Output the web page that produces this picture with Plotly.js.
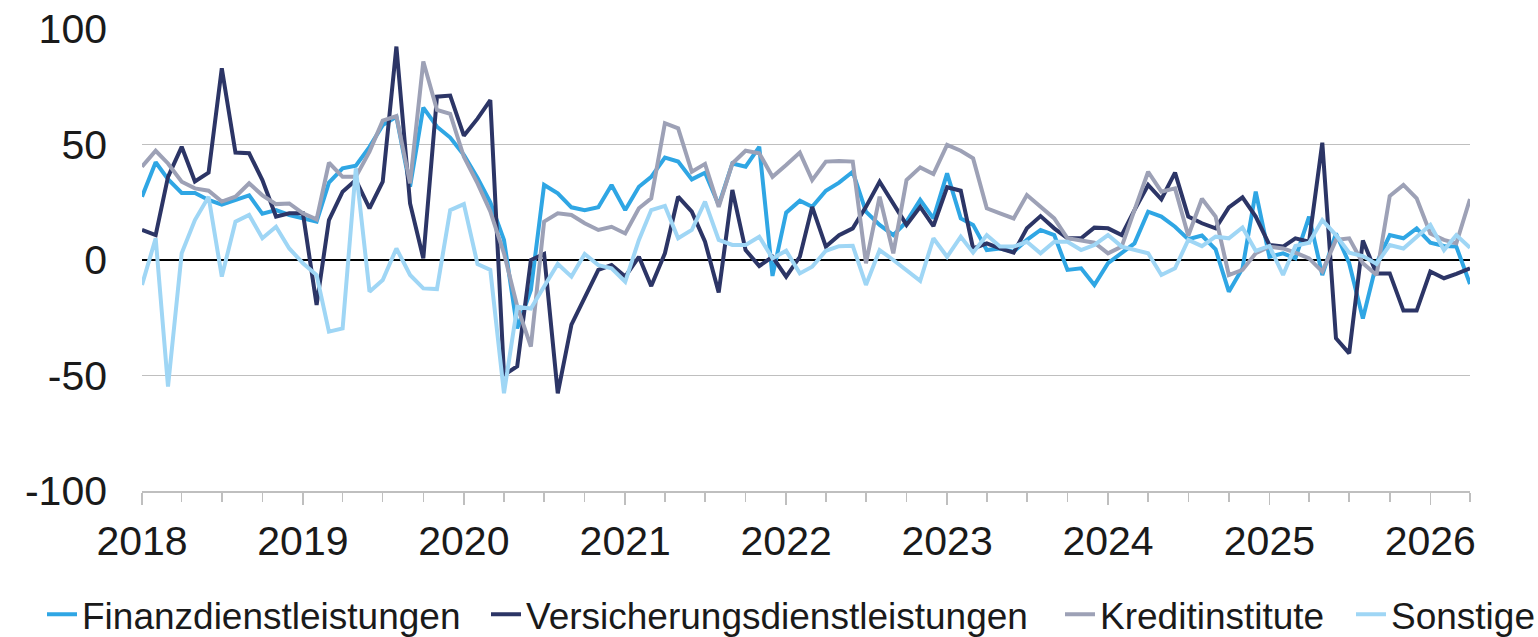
<!DOCTYPE html>
<html>
<head>
<meta charset="utf-8">
<script src="https://cdn.plot.ly/plotly-3.0.1.min.js"></script>
<style>html,body{margin:0;padding:0;background:#fff;}#chart{width:1538px;height:637px;}</style>
</head>
<body>
<div id="chart"></div>
<script>
var seriesNames = ["Finanzdienstleistungen", "Versicherungsdienstleistungen", "Kreditinstitute", "Sonstige"];
var seriesColors = ["#2FA6E4", "#2C3566", "#9DA1B6", "#9FD6F5"];

var finanz = [27.4,42.3,35,29,29,26,24,26,28,20,21.6,19.5,18,16.6,33.5,39.7,40.8,49,58.4,62,
  31.7,66,57.7,53,45.5,35.5,25,8.7,-29.6,-13,32.5,28.9,22.8,21.6,22.8,32.5,21.6,31.7,36,44.3,
  42.6,34.9,37.8,23.8,41.8,40.4,49,-6.9,20.5,25.7,23,30,33.5,38.2,20.9,15.2,10.8,16.6,26,18,
  37.5,18,15.2,4.3,5,3.6,8.7,13,10.8,-4.3,-3.6,-10.8,-1.4,2.9,7.2,20.9,18.8,14.4,9,10.6,
  4.6,-13.7,-3.6,29.6,1.4,2.9,0.7,18.8,-6.5,11.5,-1.4,-25.3,-1.4,10.8,9.4,13.7,7.5,6.1,5.8,-10.4];

var versicherung = [13,10.8,36,49,34,37.8,83,46.5,46.2,34.6,18.8,20.2,20.2,-19.5,17.3,29.6,34.6,22.4,33.9,92.4,
  24.5,0.7,70.7,71.2,53.8,61.2,69.2,-49.8,-46,0,2.6,-57.7,-28,-16,-4.3,-2.2,-7.2,1.4,-11.3,2.9,
  27.4,20.9,7.9,-14.1,30.3,4.3,-2.6,1.4,-7.2,1.4,23,5.8,10.7,13.7,23,33.9,24.5,15.2,23,14.7,
  31.5,30,5,7.2,5,3.2,13.7,19,13.7,9.4,9.4,14,13.7,10.8,21.6,32.5,26.3,37.8,18.8,15.9,
  13.7,22.8,27.1,18.8,6.5,5.8,9.4,7.9,50.8,-33.9,-40.4,8.4,-5.8,-5.8,-21.9,-21.9,-5,-7.9,-6,-3.6];

var kredit = [40.4,47.3,41.8,33.9,31,30,25.3,27.4,33.2,28,24.2,24.5,20.2,17.6,42.1,36,36,46.9,60.3,62.3,
  33.2,85.9,65,63.3,44.7,33.2,21,2.9,-20,-37.5,16.6,20.2,19.5,15.9,13,14.4,11.5,22.4,26.7,59.2,
  57,38.2,41.6,23,41.8,47.3,46.2,36,41.1,46.5,34.6,42.6,42.9,42.6,-1.4,27.4,2.9,34.6,40.1,37.2,
  49.8,47.3,44,22.4,20.2,18,28.1,23,18,9.4,8.4,7.5,2.9,5.8,21.6,38.2,29.6,31,10.5,26.5,
  18.8,-6.5,-4.3,2.9,5.8,5,3.2,0.7,-5,8.7,9.4,-1.4,-6.5,27.7,32.5,26.7,11.5,8.7,7.2,26.4];

var sonstige = [-10.8,9.4,-54.8,2.9,17.3,27.4,-7.2,16.6,19.5,9.4,14.4,5,-1.4,-6.5,-31,-29.6,39.7,-13.7,-8.7,5,
  -6.5,-12.3,-12.6,21.6,24.2,-1.8,-4.3,-57.7,-20.2,-21,-11.5,-1.7,-7.2,2.6,-2.2,-3.6,-9.4,8.7,21.6,23.4,
  9.4,13,25.3,8.7,6.5,6.5,10.1,0.7,4,-5.8,-2.9,4,6,6.2,-10.8,4.3,0,-4.3,-9,9.4,
  1.4,10.1,3.2,10.8,5.8,5.8,7.9,2.9,7.9,7.9,4.3,6.5,10.8,5.8,4.3,2.9,-6.5,-3.6,8.7,6,
  10.1,9.4,14.1,4,6.1,-6.5,6.1,7.5,17.3,10.8,3.2,1.7,-1.7,6.5,5,10.1,15.2,4.3,10.8,5.3];

var startYear = 2018;
var months = [];
for (var i = 0; i < finanz.length; i++) {
  var y = startYear + Math.floor(i / 12);
  var m = (i % 12) + 1;
  months.push(y + "-" + (m < 10 ? "0" + m : m) + "-01");
}
var yTicks = [-100, -50, 0, 50, 100];

var legendIds = ["legend", "legend2", "legend3", "legend4"];
var legendTextStart = [82, 526, 1100, 1391];

var allSeries = [finanz, versicherung, kredit, sonstige];
var traces = allSeries.map(function (vals, k) {
  return {
    x: months, y: vals, name: seriesNames[k], type: "scatter", mode: "lines",
    line: {color: seriesColors[k], width: 4}, legend: legendIds[k]
  };
});

var W = 1538, ML = 4, MR = 4;
var plotL = 142, plotR = 1470;
var fontFam = "Liberation Sans, Arial, sans-serif";
var layout = {
  width: W, height: 637,
  margin: {l: ML, r: MR, t: 29, b: 146, autoexpand: false},
  paper_bgcolor: "#fff", plot_bgcolor: "#fff",
  font: {family: fontFam, color: "#1a1a1a"},
  showlegend: true,
  xaxis: {
    domain: [(plotL - ML) / (W - ML - MR), (plotR - ML) / (W - ML - MR)],
    type: "date", range: ["2018-01-01", "2026-04-01"],
    tick0: "2018-01-01", dtick: "M12", tickformat: "%Y",
    ticks: "outside", ticklen: 12, tickwidth: 1.5, tickcolor: "#BFBFBF",
    minor: {dtick: "M3", tick0: "2018-01-01", ticks: "outside", ticklen: 9, tickwidth: 1.5, tickcolor: "#BFBFBF", showgrid: false},
    showline: true, linecolor: "#BFBFBF", linewidth: 1.5,
    showgrid: false, zeroline: false,
    tickfont: {family: fontFam, size: 41, color: "#1a1a1a"},
    ticklabelstandoff: 1
  },
  yaxis: {
    range: [-100, 100], tickvals: yTicks, ticktext: yTicks.map(String),
    showgrid: true, gridcolor: "#BFBFBF", gridwidth: 1.5,
    zeroline: true, zerolinecolor: "#000", zerolinewidth: 1.5,
    showline: false, ticks: "",
    tickfont: {family: fontFam, size: 41, color: "#1a1a1a"},
    ticklabelstandoff: 34
  }
};
legendIds.forEach(function (id, k) {
  layout[id] = {
    orientation: "h", xref: "container", yref: "container",
    x: (legendTextStart[k] - 40) / W, xanchor: "left",
    y: 0.035, yanchor: "middle",
    font: {family: fontFam, size: 37, color: "#1a1a1a"},
    itemwidth: 30, bgcolor: "rgba(0,0,0,0)", borderwidth: 0
  };
});

Plotly.newPlot("chart", traces, layout, {displayModeBar: false, staticPlot: true});
</script>
</body>
</html>
